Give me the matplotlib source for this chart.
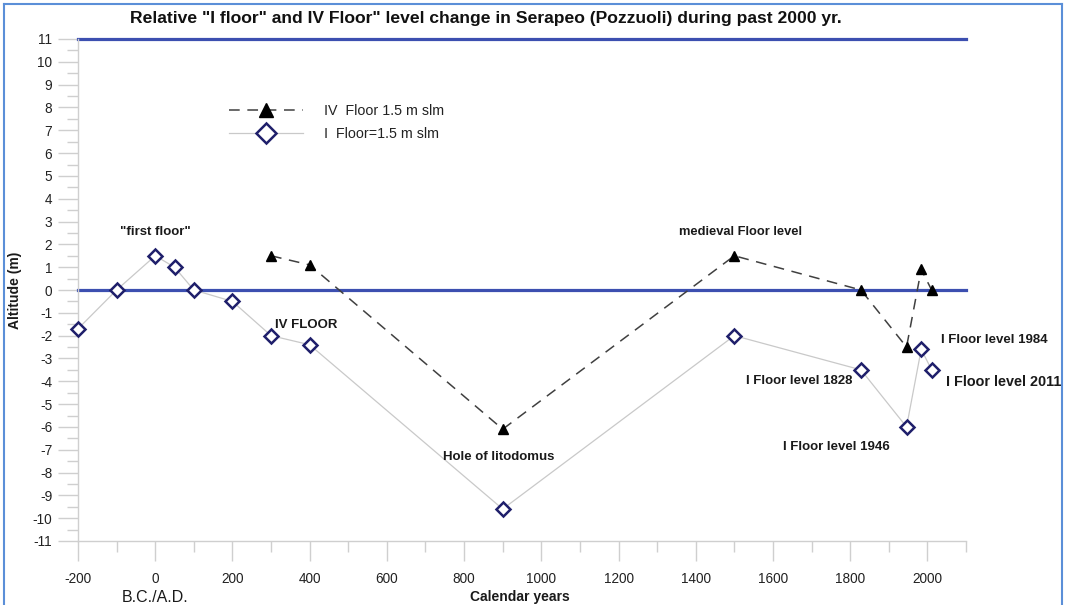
import matplotlib
matplotlib.use("Agg")
import matplotlib.pyplot as plt
from matplotlib.lines import Line2D
from matplotlib.ticker import MultipleLocator

# ---- data ----
i_floor_years = [-200, -100, 0, 50, 100, 200, 300, 400, 900, 1500, 1828, 1946, 1984, 2011]
i_floor_alt = [-1.7, 0.0, 1.5, 1.0, 0.0, -0.5, -2.0, -2.4, -9.6, -2.0, -3.5, -6.0, -2.6, -3.5]

iv_floor_years = [300, 400, 900, 1500, 1828, 1946, 1984, 2011]
iv_floor_alt = [1.5, 1.1, -6.1, 1.5, 0.0, -2.5, 0.9, 0.0]

ref_levels = [11, 0]
x_ticks = list(range(-200, 2001, 200))
y_ticks = list(range(-11, 12))

annotations = [
    ('"first floor"', 0, 2.55, 9.5),
    ("IV FLOOR", 390, -1.55, 9.5),
    ("medieval Floor level", 1515, 2.55, 9.3),
    ("Hole of litodomus", 890, -7.3, 9.5),
    ("I Floor level 1828", 1668, -4.0, 9.5),
    ("I Floor level 1946", 1765, -6.9, 9.5),
]
annotations_left = [
    ("I Floor level 1984", 2034, -2.2, 9.5),
    ("I Floor level 2011", 2047, -4.05, 10.4),
]

plt.rcParams["font.family"] = ["Liberation Sans", "DejaVu Sans"]

fig = plt.figure(figsize=(10.67, 6.05), dpi=100)
ax = fig.add_axes([78 / 1067, 1 - 541 / 605, 888 / 1067, 502 / 605])

ax.set_xlim(-200, 2100)
ax.set_ylim(-11, 11)

blue = "#3c4fb0"
for lvl in ref_levels:
    ax.plot([-200, 2100], [lvl, lvl], color=blue, lw=2.3, clip_on=False, zorder=2)

ax.plot(i_floor_years, i_floor_alt, color="#c9c9c9", lw=0.9, marker="D", markersize=7.5,
        markerfacecolor="white", markeredgecolor="#1f1f6b", markeredgewidth=1.8,
        zorder=3, clip_on=False, label="I  Floor=1.5 m slm")
ax.plot(iv_floor_years, iv_floor_alt, color="#404040", lw=1.1, dashes=(7, 5), marker="^",
        markersize=7.5, markerfacecolor="black", markeredgecolor="black",
        zorder=4, clip_on=False, label="IV  Floor 1.5 m slm")

# legend
h, l = ax.get_legend_handles_labels()
leg = ax.legend(h[::-1], l[::-1], loc="upper left", bbox_to_anchor=(0.155, 0.896),
                frameon=False, fontsize=10.3, handlelength=5.2, handletextpad=1.5,
                labelspacing=0.65, markerscale=1.35)
for t in leg.get_texts():
    t.set_color("#222222")

# spines & ticks
for s in ["top", "right"]:
    ax.spines[s].set_visible(False)
for s in ["left", "bottom"]:
    ax.spines[s].set_color("#cfcfcf")
    ax.spines[s].set_linewidth(1.0)

ax.set_xticks(x_ticks)
ax.set_xticklabels([str(v) for v in x_ticks])
ax.xaxis.set_minor_locator(MultipleLocator(100))
ax.set_yticks(y_ticks)
ax.set_yticklabels([str(v) for v in y_ticks])
ax.yaxis.set_minor_locator(MultipleLocator(0.5))
ax.tick_params(axis="both", which="major", length=14.5, width=1, color="#cfcfcf",
               labelsize=9.8, labelcolor="#222222")
ax.tick_params(axis="both", which="minor", length=8, width=1, color="#cfcfcf")
ax.tick_params(axis="x", which="major", pad=8)
ax.tick_params(axis="y", which="major", pad=4)

for txt, x, y, fs in annotations:
    ax.text(x, y, txt, ha="center", va="center", fontsize=fs, fontweight="bold",
            color="#1a1a1a")
for txt, x, y, fs in annotations_left:
    ax.text(x, y, txt, ha="left", va="center", fontsize=fs, fontweight="bold",
            color="#1a1a1a", clip_on=False)

ax.text((15 - 78) / 888, 0.5, "Altitude (m)", transform=ax.transAxes, rotation=90,
        ha="center", va="center", fontsize=10, fontweight="bold", color="#1a1a1a")
ax.text((520 - 78) / 888, (541 - 597) / 502, "Calendar years", transform=ax.transAxes,
        ha="center", va="center", fontsize=10, fontweight="bold", color="#1a1a1a")
ax.text((155 - 78) / 888, (541 - 597) / 502, "B.C./A.D.", transform=ax.transAxes,
        ha="center", va="center", fontsize=11.5, color="#1a1a1a")

fig.text(486 / 1067, 1 - 18 / 605,
         'Relative "I floor" and IV Floor" level change in Serapeo (Pozzuoli) during past 2000 yr.',
         ha="center", va="center", fontsize=12.6, fontweight="bold", color="#111111")

# figure border
bc = "#5b8fd8"
fig.add_artist(Line2D([4 / 1067, 4 / 1067], [0, 1 - 4 / 605], transform=fig.transFigure, color=bc, lw=1.5))
fig.add_artist(Line2D([1062 / 1067, 1062 / 1067], [0, 1 - 4 / 605], transform=fig.transFigure, color=bc, lw=1.5))
fig.add_artist(Line2D([4 / 1067, 1062 / 1067], [1 - 4 / 605, 1 - 4 / 605], transform=fig.transFigure, color=bc, lw=1.5))

fig.savefig("out.png", dpi=100)
